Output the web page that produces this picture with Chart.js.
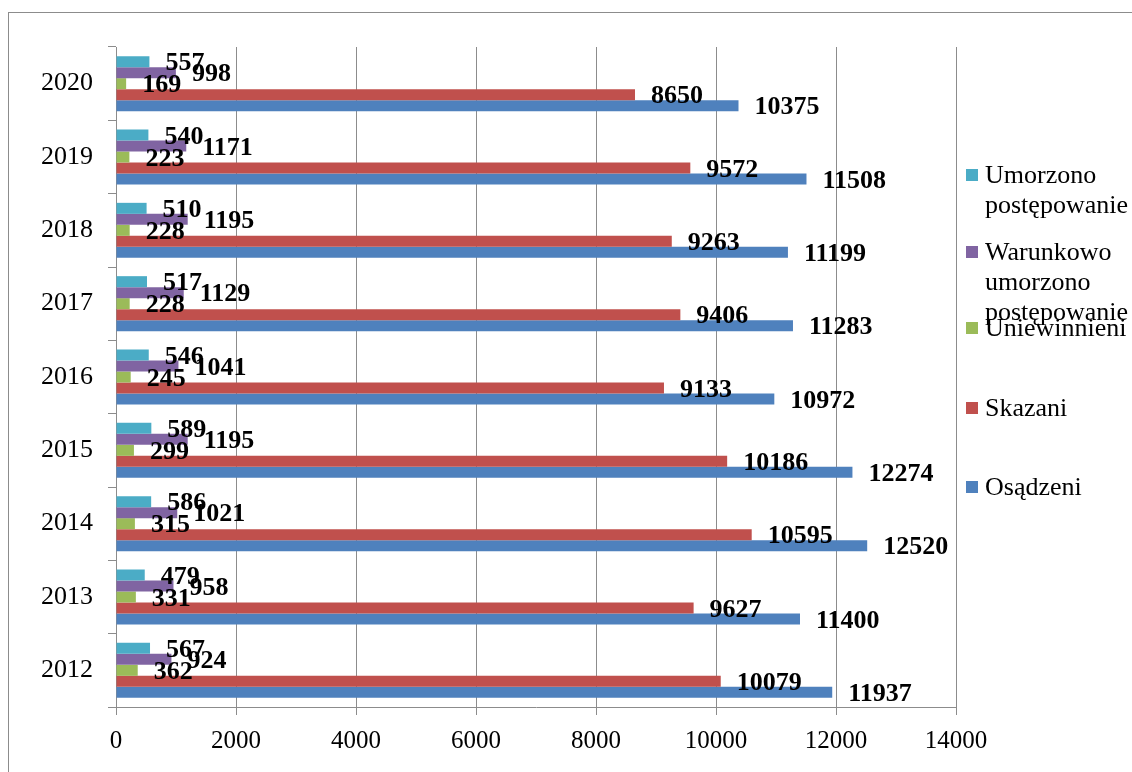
<!DOCTYPE html>
<html>
<head>
<meta charset="utf-8">
<script src="https://cdn.jsdelivr.net/npm/chart.js@4/dist/chart.umd.min.js"></script>
<style>
  body { margin: 0; background: #fff; overflow: hidden; }
  #wrap { position: relative; width: 1132px; height: 772px; }
  #frame { position: absolute; left: 8px; top: 12px; width: 1200px; height: 900px; border: 1px solid #8c8c8c; }
  canvas { position: absolute; left: 0; top: 0; }
  #legend { position: absolute; left: 966px; top: 0; font-family: 'Liberation Serif', serif; font-size: 26px; color: #000; }
  .item { position: absolute; left: 0; width: 170px; line-height: 30px; }
  .box { position: absolute; left: 0; top: 9px; width: 12px; height: 12px; }
  .txt { position: absolute; left: 19px; width: 160px; white-space: normal; }
</style>
</head>
<body>
<div id="wrap">
  <div id="frame"></div>
  <canvas id="chart" width="1132" height="772"></canvas>
  <div id="legend"></div>
</div>
<script>
const years = ['2020', '2019', '2018', '2017', '2016', '2015', '2014', '2013', '2012'];
const umorzono = [557, 540, 510, 517, 546, 589, 586, 479, 567];
const warunkowo = [998, 1171, 1195, 1129, 1041, 1195, 1021, 958, 924];
const uniewinnieni = [169, 223, 228, 228, 245, 299, 315, 331, 362];
const skazani = [8650, 9572, 9263, 9406, 9133, 10186, 10595, 9627, 10079];
const osadzeni = [10375, 11508, 11199, 11283, 10972, 12274, 12520, 11400, 11937];
const xTicks = [0, 2000, 4000, 6000, 8000, 10000, 12000, 14000];

const font = 'Liberation Serif';

// data labels to the right of each bar, like the Excel original
const barLabels = {
  id: 'barLabels',
  afterDatasetsDraw(chart) {
    const ctx = chart.ctx;
    ctx.save();
    ctx.font = 'bold 26px "' + font + '"';
    ctx.fillStyle = '#000';
    ctx.textBaseline = 'middle';
    ctx.textAlign = 'left';
    chart.data.datasets.forEach((ds, i) => {
      const meta = chart.getDatasetMeta(i);
      meta.data.forEach((bar, j) => {
        ctx.fillText(String(ds.data[j]), bar.x + 16, bar.y + 2);
      });
    });
    ctx.restore();
  }
};

const chart = new Chart(document.getElementById('chart'), {
  type: 'bar',
  data: {
    labels: years,
    datasets: [
      { label: 'Umorzono postępowanie', data: umorzono, backgroundColor: '#4BACC6' },
      { label: 'Warunkowo umorzono postępowanie', data: warunkowo, backgroundColor: '#8064A2' },
      { label: 'Uniewinnieni', data: uniewinnieni, backgroundColor: '#9BBB59' },
      { label: 'Skazani', data: skazani, backgroundColor: '#C0504D' },
      { label: 'Osądzeni', data: osadzeni, backgroundColor: '#4F81BD' }
    ]
  },
  options: {
    indexAxis: 'y',
    responsive: false,
    animation: false,
    barPercentage: 1,
    categoryPercentage: 0.75,
    layout: { padding: { left: 0, top: 47, right: 176, bottom: 0 } },
    plugins: {
      legend: { display: false },
      tooltip: { enabled: false }
    },
    scales: {
      x: {
        min: 0,
        max: 14000,
        afterFit: (s) => { s.height = 65; },
        afterBuildTicks: (s) => { s.ticks = xTicks.map(v => ({ value: v })); },
        grid: { color: '#8c8c8c', lineWidth: 1, tickLength: 8 },
        border: { color: '#8c8c8c' },
        ticks: {
          color: '#000', font: { family: font, size: 25 }, padding: 11, maxRotation: 0,
          callback: (v) => String(v)
        }
      },
      y: {
        afterFit: (s) => { s.width = 116; },
        grid: { drawOnChartArea: false, color: '#8c8c8c', tickLength: 8, offset: true },
        border: { color: '#8c8c8c' },
        ticks: { color: '#000', font: { family: font, size: 26 }, padding: 15 }
      }
    }
  },
  plugins: [barLabels]
});

// legend on the right, built from the datasets
const tops = [160, 237, 313, 393, 472];
const legend = document.getElementById('legend');
chart.data.datasets.forEach((ds, i) => {
  const item = document.createElement('div');
  item.className = 'item';
  item.style.top = tops[i] + 'px';
  item.innerHTML = '<div class="box" style="background:' + ds.backgroundColor + '"></div><div class="txt">' + ds.label + '</div>';
  legend.appendChild(item);
});
</script>
</body>
</html>
